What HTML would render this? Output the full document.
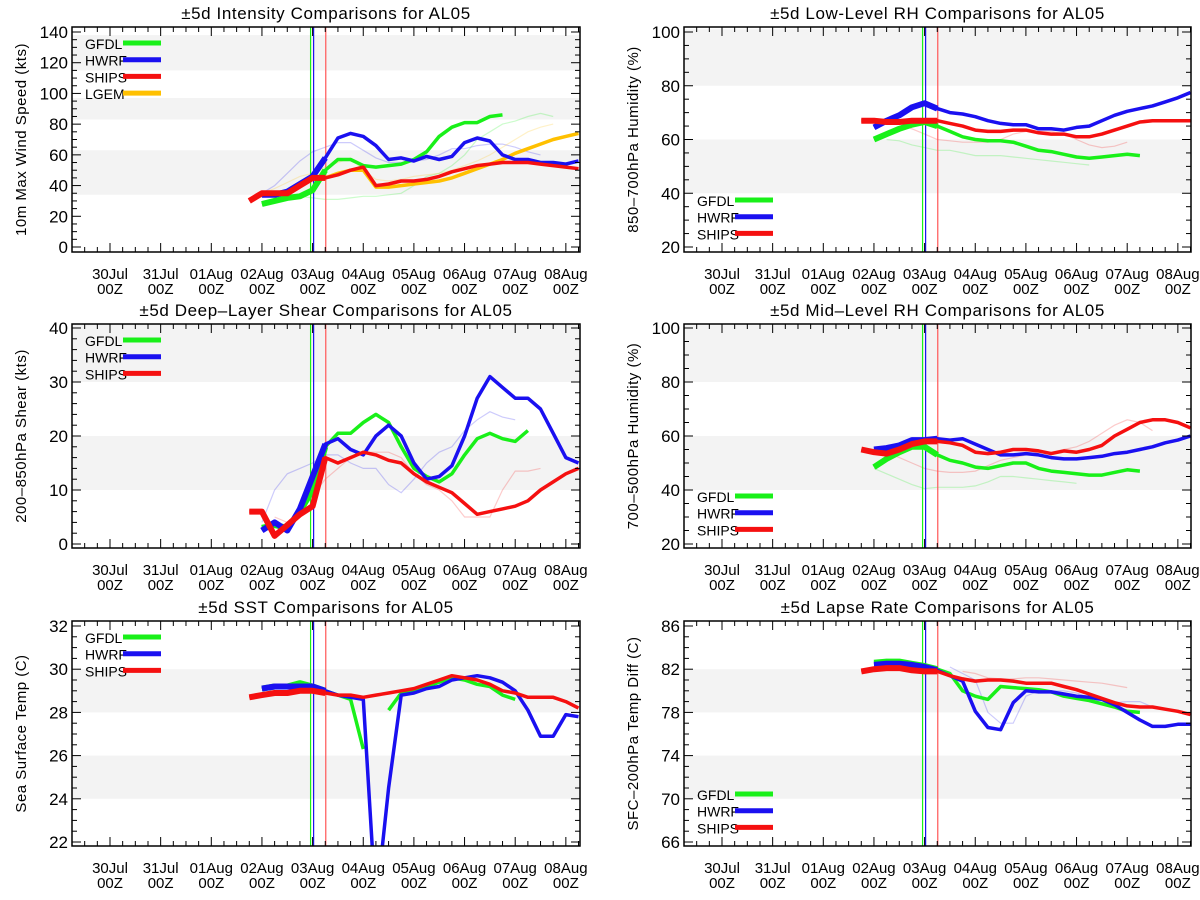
<!DOCTYPE html>
<html><head><meta charset="utf-8"><style>
body{margin:0;background:#fff}
svg{display:block;font-family:"Liberation Sans",sans-serif}
</style></head><body>
<svg id="c" width="1200" height="900" xmlns="http://www.w3.org/2000/svg"></svg>
<script>
const dayLabels=["30Jul","31Jul","01Aug","02Aug","03Aug","04Aug","05Aug","06Aug","07Aug","08Aug"];
const seriesNames=["GFDL","HWRF","SHIPS","LGEM"];
const colors={GFDL:"#19f019",HWRF:"#1a10f0",SHIPS:"#f51010",LGEM:"#ffc000"};
const intStart={GFDL:3,HWRF:3,SHIPS:2.75,LGEM:4};
const intGFDL=[28,30,32,33,37,50,57,57,53,52,53,54,57,62,72,78,81,81,85,86];
const intHWRF=[34,34,36,41,46,58,71,74,72,66,57,58,56,59,57,59,68,71,69,60,57,57,55,55,54,56];
const intSHIPS=[30,35,35,35,40,45,45,47,50,52,40,41,43,43,44,46,49,51,53,54,55,55,55,54,53,52,51];
const intLGEM=[45,45,48,50,50,39,39,40,41,42,43,45,48,51,54,57,61,64,67,70,72,74];
const lowStart={GFDL:3,HWRF:3,SHIPS:2.75};
const lowGFDL=[60,62,64,65.5,66.5,65,63,61,60,59.5,59.5,59,57.5,56,55.5,54.5,53.5,53,53.5,54,54.5,54];
const lowHWRF=[64.5,67,69,72,73.5,71.5,70,69.5,68.5,67,66,65.5,65.5,64,64,63.5,64.5,65,67,69,70.5,71.5,72.5,74,75.5,77.5];
const lowSHIPS=[67,67,66.5,66.5,67,67,67,66,65,63.5,63,63,63.5,63.5,62.5,62,62,61,61,62,63.5,65,66.5,67,67,67,67];
const shrStart={GFDL:3,HWRF:3,SHIPS:2.75};
const shrGFDL=[3,3.5,3,6,10,18,20.5,20.5,22.5,24,22.5,18,14,12.5,11.5,13,16.5,19.5,20.5,19.5,19,21];
const shrHWRF=[2.5,4,2.5,6.5,12.5,18.5,19.5,17.5,16.5,20,22,20,15,12,12.5,14.5,20,27,31,29,27,27,25,20.5,16,15];
const shrSHIPS=[6,6,1.5,3.5,5.5,7,16,15,16,17,16.5,15.5,15,13,11.5,10.5,9.5,7.5,5.5,6,6.5,7,8,10,11.5,13,14];
const midStart={GFDL:3,HWRF:3,SHIPS:2.75};
const midGFDL=[48.5,51.5,54,56,56,53,51,50,48.5,48,49,50,50,48,47,46.5,46,45.5,45.5,46.5,47.5,47];
const midHWRF=[55,55.5,56.5,58.5,58.5,59,58.5,59,57,55,53,53,53.5,53,52,51.5,51.5,52,52.5,53.5,54,55,56,57.5,58.5,60];
const midSHIPS=[55,54,53.5,55,57,58,58,57.5,56.5,54,53.5,54,55,55,54.5,53.5,54.5,54,55,56.5,60,62.5,65,66,66,65,63];
const sstStart={GFDL:3,HWRF:3,SHIPS:2.75};
const sstGFDL=[29.1,29.2,29.2,29.35,29.2,29.0,28.8,28.6,26.3,null,28.1,28.9,29.0,29.2,29.4,29.6,29.5,29.3,29.2,28.8,28.6];
const sstHWRF=[29.1,29.2,29.2,29.2,29.2,29.0,28.8,28.7,28.6,19,24.5,28.8,28.9,29.1,29.2,29.5,29.6,29.7,29.6,29.4,29.0,28.1,26.9,26.9,27.9,27.8];
const sstSHIPS=[28.7,28.8,28.9,28.9,29.0,29.0,28.9,28.8,28.8,28.7,28.8,28.9,29.0,29.1,29.3,29.5,29.7,29.6,29.5,29.3,29.0,28.9,28.7,28.7,28.7,28.5,28.2];
const lapStart={GFDL:3,HWRF:3,SHIPS:2.75};
const lapGFDL=[82.6,82.7,82.7,82.5,82.3,82.0,81.6,80.0,79.5,79.2,80.4,80.3,80.2,80.1,79.9,79.5,79.3,79.1,78.8,78.5,78.1,78.0];
const lapHWRF=[82.4,82.5,82.5,82.4,82.2,81.9,81.4,80.9,78.1,76.6,76.4,78.9,80.0,79.9,79.9,79.7,79.5,79.4,79.2,78.7,78.0,77.3,76.7,76.7,76.9,76.9];
const lapSHIPS=[81.8,82.0,82.1,82.1,81.9,81.8,81.8,81.4,81.1,80.9,81.0,81.0,80.9,80.7,80.7,80.7,80.4,80.1,79.7,79.3,78.9,78.6,78.5,78.5,78.3,78.1,77.8];
const fadeIntHWRF=[35,40,48,56,62,65,68,68,63,58,55,55,56,57,60,64,64,66,67,67,65,62,60];
const fadeIntGFDL=[33,32,31,31,32,33,33,34,35,40,46,48,53,60,70,75,80,82,85,87,85];
const fadeIntSHIPS=[35,38,42,46,48,52,55,58,50,44,43,44,46,47,48,50,53,56,60,65,70,75,78,80];
const fadeLowGFDL=[60,59.5,58,57,56,56,55,54,54,54,53.5,53,52.5,52,51.5,51,50.5];
const fadeLowSHIPS=[67,66,64,62,60,59.5,59,59,59,60,62,63,63,63,62,60,58,57,57.5,59];
const fadeShrHWRF=[4,10,13,14,15,16.5,16.5,15,14,14,11,9.5,12,15,17,18,21,23,24.5,23.5,23];
const fadeShrSHIPS=[5,4,6,9,12,14,16,17,17,17,16,13,11,10,8,5,5,5,10,13.5,13.5,14];
const fadeMidGFDL=[48,46,44,42,40.5,41,41,41,41.5,43,45,45,44.5,44,43.5,43,42.5];
const fadeMidSHIPS=[54,52,50,48,47,46.5,46.5,47,49,51,52,53,54,54,55,56,58,61,64,66,65,62];
const fadeLapHWRF=[82.2,81.6,81,78,77,77,79.5,80,80,80,79.8,79.4,78.9,78.9,79,79,78.5];
const fadeLapSHIPS=[81.8,81.6,81.2,81.1,81.1,81.2,81.2,81.1,81.0,80.9,80.8,80.7,80.5,80.3];

const panels=[
 {name:"intensity",title:"\u00b15d Intensity Comparisons for AL05",ytitle:"10m Max Wind Speed (kts)",col:0,row:0,ymin:0,ymax:140,major:20,minor:5,bands:[[34,63],[83,97],[115,138]],legend:"top",
  series:{GFDL:intGFDL,HWRF:intHWRF,SHIPS:intSHIPS,LGEM:intLGEM},start:intStart,
  fades:[[fadeIntHWRF,3,"HWRF"],[fadeIntGFDL,3.75,"GFDL"],[fadeIntSHIPS,3,"LGEM"]]},
 {name:"low-rh",title:"\u00b15d Low-Level RH Comparisons for AL05",ytitle:"850\u2013700hPa Humidity (%)",col:1,row:0,ymin:20,ymax:100,major:20,minor:5,bands:[[40,60],[80,101]],legend:"bottom",
  series:{GFDL:lowGFDL,HWRF:lowHWRF,SHIPS:lowSHIPS},start:lowStart,
  fades:[[fadeLowGFDL,3.25,"GFDL"],[fadeLowSHIPS,3.25,"SHIPS"]]},
 {name:"shear",title:"\u00b15d Deep\u2013Layer Shear Comparisons for AL05",ytitle:"200\u2013850hPa Shear (kts)",col:0,row:1,ymin:0,ymax:40,major:10,minor:2,bands:[[10,20],[30,41]],legend:"top",
  series:{GFDL:shrGFDL,HWRF:shrHWRF,SHIPS:shrSHIPS},start:shrStart,
  fades:[[fadeShrHWRF,3,"HWRF"],[fadeShrSHIPS,3.25,"SHIPS"]]},
 {name:"mid-rh",title:"\u00b15d Mid\u2013Level RH Comparisons for AL05",ytitle:"700\u2013500hPa Humidity (%)",col:1,row:1,ymin:20,ymax:100,major:20,minor:5,bands:[[40,60],[80,101]],legend:"bottom",
  series:{GFDL:midGFDL,HWRF:midHWRF,SHIPS:midSHIPS},start:midStart,
  fades:[[fadeMidGFDL,3,"GFDL"],[fadeMidSHIPS,3.25,"SHIPS"]]},
 {name:"sst",title:"\u00b15d SST Comparisons for AL05",ytitle:"Sea Surface Temp (C)",col:0,row:2,ymin:22,ymax:32,major:2,minor:0.5,bands:[[24,26],[28,30]],legend:"top",
  series:{GFDL:sstGFDL,HWRF:sstHWRF,SHIPS:sstSHIPS},start:sstStart,fades:[]},
 {name:"lapse",title:"\u00b15d Lapse Rate Comparisons for AL05",ytitle:"SFC\u2013200hPa Temp Diff (C)",col:1,row:2,ymin:66,ymax:86,major:4,minor:1,bands:[[70,74],[78,82]],legend:"bottom",
  series:{GFDL:lapGFDL,HWRF:lapHWRF,SHIPS:lapSHIPS},start:lapStart,
  fades:[[fadeLapHWRF,4.5,"HWRF"],[fadeLapSHIPS,4.75,"SHIPS"]]}
];
const rowGeom=[{top:27,bot:252,tTop:32,tBot:247},{top:324,bot:548,tTop:328,tBot:544},{top:621,bot:846,tTop:626,tBot:842}];
const colGeom=[{left:72,right:580,x0:110},{left:684,right:1191,x0:722}];
const DAYW=50.65;
const NS="http://www.w3.org/2000/svg";
const svg=document.getElementById('c');
function mk(tag,attrs,parent){const e=document.createElementNS(NS,tag);for(const k in attrs)e.setAttribute(k,attrs[k]);(parent||svg).appendChild(e);return e;}

panels.forEach((p,pi)=>{
 const R=rowGeom[p.row],C=colGeom[p.col];
 const X=d=>C.x0+d*DAYW;
 const Y=v=>R.tBot-(v-p.ymin)/(p.ymax-p.ymin)*(R.tBot-R.tTop);
 const g=mk('g',{});
 
 
 const cp=mk('clipPath',{id:'clip'+pi},g);
 mk('rect',{x:C.left,y:R.top,width:C.right-C.left,height:R.bot-R.top},cp);
 const pg=mk('g',{'clip-path':'url(#clip'+pi+')'},g);
 p.bands.forEach(b=>{
  const r=mk('rect',{x:C.left,y:Y(b[1]),width:C.right-C.left,height:Y(b[0])-Y(b[1]),fill:'#f3f3f3'},pg);
  
  
 });
 p.fades.forEach(f=>{
  const pts=f[0].map((v,i)=>X(f[1]+i*0.25).toFixed(1)+','+Y(v).toFixed(1)).join(' ');
  const l=mk('polyline',{points:pts,fill:'none',stroke:colors[f[2]],'stroke-width':1.2,'stroke-opacity':0.22},pg);
  
  
 });
 [[3.96,colors.GFDL],[4.02,colors.HWRF],[4.26,'#f55']].forEach(v=>{
  const l=mk('line',{x1:X(v[0]),x2:X(v[0]),y1:R.top,y2:R.bot,stroke:v[1],'stroke-width':1.2},pg);
  
  
 });
 const order=['LGEM','GFDL','HWRF','SHIPS'].filter(k=>p.series[k]);
 order.forEach(k=>{
  const vals=p.series[k],st=p.start[k];
  let segs=[],cur=[];
  vals.forEach((v,i)=>{if(v===null){if(cur.length)segs.push(cur);cur=[];}else cur.push([X(st+i*0.25),Y(v),st+i*0.25]);});
  if(cur.length)segs.push(cur);
  segs.forEach(s=>{
   const past=s.filter(q=>q[2]<=4.25);
   if(past.length>1){
    const l=mk('polyline',{points:past.map(q=>q[0].toFixed(1)+','+q[1].toFixed(1)).join(' '),fill:'none',stroke:colors[k],'stroke-width':6,'stroke-linejoin':'round'},pg);
    
    
   }
   const l=mk('polyline',{points:s.map(q=>q[0].toFixed(1)+','+q[1].toFixed(1)).join(' '),fill:'none',stroke:colors[k],'stroke-width':3.5,'stroke-linejoin':'round'},pg);
   
   
  });
 });
 const fr=mk('rect',{x:C.left,y:R.top,width:C.right-C.left,height:R.bot-R.top,fill:'none',stroke:'#000','stroke-width':1.5},g);
 
 
 for(let q=-2;q<=37;q++){
  const d=q*0.25,x=X(d);if(x<C.left||x>C.right)continue;
  const L=(q%4===0)?9:5;
  mk('line',{x1:x,x2:x,y1:R.bot,y2:R.bot-L,stroke:'#000','stroke-width':1},g);
  mk('line',{x1:x,x2:x,y1:R.top,y2:R.top+L,stroke:'#000','stroke-width':1},g);
 }
 dayLabels.forEach((lab,i)=>{
  const t=mk('text',{x:X(i),y:R.bot+27,'text-anchor':'middle','font-size':15},g);t.textContent=lab;
  
  
  const t2=mk('text',{x:X(i),y:R.bot+42,'text-anchor':'middle','font-size':15},g);t2.textContent='00Z';
  
  
 });
 const nMin=Math.round((p.ymax-p.ymin)/p.minor),per=Math.round(p.major/p.minor);
 for(let j=0;j<=nMin;j++){
  const v=p.ymin+j*p.minor,y=Y(v),maj=(j%per===0),L=maj?9:5;
  mk('line',{x1:C.left,x2:C.left+L,y1:y,y2:y,stroke:'#000','stroke-width':1},g);
  mk('line',{x1:C.right,x2:C.right-L,y1:y,y2:y,stroke:'#000','stroke-width':1},g);
  if(maj){const t=mk('text',{x:C.left-4,y:y+6,'text-anchor':'end','font-size':17},g);t.textContent=Math.round(v);
   
   }
 }
 const tt=mk('text',{x:(C.left+C.right)/2,y:R.top-8,'text-anchor':'middle','font-size':17,'letter-spacing':'0.6'},g);tt.textContent=p.title;
 
 
 const yx=p.col===0?26:638,ym=(R.top+R.bot)/2;
 const yt=mk('text',{x:yx,y:ym,'text-anchor':'middle','font-size':15,'letter-spacing':'0.5',transform:`rotate(-90 ${yx} ${ym})`},g);yt.textContent=p.ytitle;
 
 
 const names=Object.keys(p.series).filter(k=>k!=='LGEM').concat(p.series.LGEM?['LGEM']:[]);
 names.forEach((k,i)=>{
  const ly=p.legend==='top'?R.top+16+i*16.7:R.bot-52+i*16.7;
  const lx=C.left+13;
  const lg=mk('g',{},g);
  
  
  const t=mk('text',{x:lx,y:ly+6,'font-size':14},lg);t.textContent=k;
  mk('line',{x1:lx+38,x2:lx+76,y1:ly,y2:ly,stroke:colors[k],'stroke-width':5},lg);
 });
});
</script>
</body></html>
